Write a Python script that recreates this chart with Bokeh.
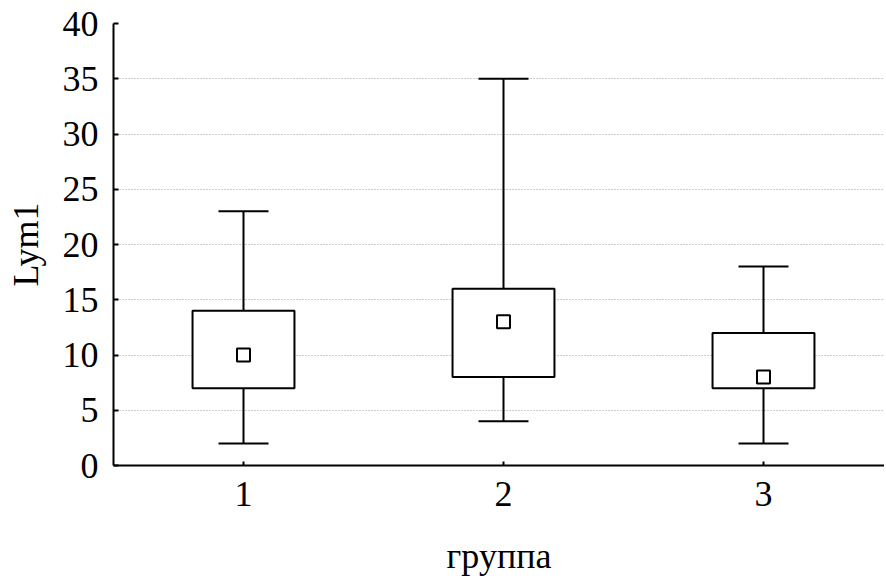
from bokeh.plotting import figure
from bokeh.models import Range1d, FixedTicker
from bokeh.embed import file_html
from bokeh.resources import INLINE

# Data
groups = [1, 2, 3]
whisker_low = [2, 4, 2]
q1 = [7, 8, 7]
q3 = [14, 16, 12]
whisker_high = [23, 35, 18]
median = [10, 13, 8]
y_ticks = [0, 5, 10, 15, 20, 25, 30, 35, 40]
grid_ticks = [5, 10, 15, 20, 25, 30, 35]

FONT = "Liberation Serif"
FS = "36px"

p = figure(width=884, height=578, output_backend="svg", toolbar_location=None,
           x_range=Range1d(0.5, 3.4654), y_range=Range1d(0, 40),
           min_border_left=113, min_border_top=23, min_border_bottom=112,
           min_border_right=0)
p.outline_line_color = None
p.background_fill_color = "white"
p.border_fill_color = "white"

# whisker stems
p.segment(x0=groups, y0=whisker_low, x1=groups, y1=whisker_high,
          line_color="black", line_width=2)
# whisker caps
p.scatter(x=groups, y=whisker_low, marker="dash", size=50, line_color="black", line_width=2)
p.scatter(x=groups, y=whisker_high, marker="dash", size=50, line_color="black", line_width=2)
# boxes
p.vbar(x=groups, bottom=q1, top=q3, width=0.392, fill_color="white",
       line_color="black", line_width=2)
# medians
p.scatter(x=groups, y=median, marker="square", size=13, fill_color="white",
          line_color="black", line_width=2)

# axes
p.xaxis.ticker = FixedTicker(ticks=groups)
p.yaxis.ticker = FixedTicker(ticks=y_ticks)
for ax in (p.xaxis[0], p.yaxis[0]):
    ax.axis_line_width = 2
    ax.axis_line_color = "black"
    ax.major_tick_line_color = "black"
    ax.major_tick_line_width = 2
    ax.major_tick_out = 0
    ax.minor_tick_line_color = None
    ax.major_label_text_font = FONT
    ax.major_label_text_font_size = FS
    ax.major_label_text_color = "black"
    ax.axis_label_text_font = FONT
    ax.axis_label_text_font_size = FS
    ax.axis_label_text_font_style = "normal"
    ax.axis_label_text_color = "black"
p.xaxis.major_tick_in = 4
p.yaxis.major_tick_in = 5
p.xaxis.axis_label = "группа"
p.yaxis.axis_label = "Lym1"
p.xaxis.major_label_standoff = 16
p.yaxis.major_label_standoff = 15
p.xaxis.axis_label_standoff = 27
p.yaxis.axis_label_standoff = 14

# grid
p.xgrid.grid_line_color = None
p.ygrid.ticker = FixedTicker(ticks=grid_ticks)
p.ygrid.grid_line_color = "#999999"
p.ygrid.grid_line_dash = "1 2"
p.ygrid.grid_line_width = 1

open("out.html", "w").write(file_html(p, INLINE))
